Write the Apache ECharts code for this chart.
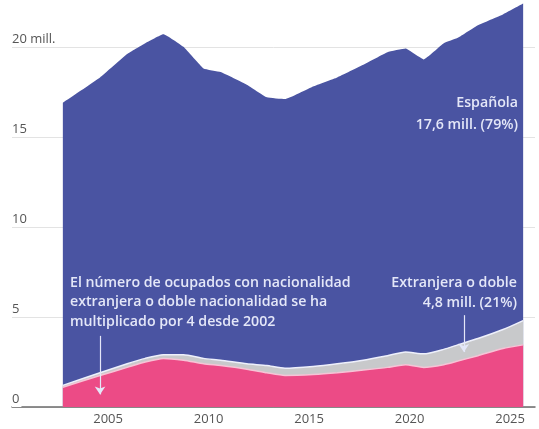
<!DOCTYPE html>
<html>
<head>
<meta charset="utf-8">
<script src="https://cdn.jsdelivr.net/npm/echarts@6/dist/echarts.min.js"></script>
<style>
  html, body { margin: 0; padding: 0; background: #fff; }
  #chart { width: 539px; height: 429px; }
</style>
</head>
<body>
<div id="chart"></div>
<script>
// años (posición aproximada de cada punto)
const years = [2002.75, 2004.6, 2005.95, 2006.85, 2007.75, 2008.75, 2009.75, 2010.6, 2011.9, 2012.9, 2013.8,
  2015.2, 2016.4, 2017.7, 2018.9, 2019.8, 2020.7, 2021.7, 2022.4, 2023.4, 2024.65, 2025.65]
// ocupados, millones
const extranjera = [1.1, 1.75, 2.2, 2.5, 2.7, 2.6, 2.4, 2.3, 2.1, 1.9, 1.75,
  1.8, 1.9, 2.05, 2.2, 2.35, 2.2, 2.35, 2.55, 2.85, 3.25, 3.45]
const doble = [0.1, 0.15, 0.2, 0.2, 0.2, 0.3, 0.3, 0.3, 0.3, 0.4, 0.4,
  0.45, 0.5, 0.55, 0.65, 0.7, 0.75, 0.85, 0.9, 0.95, 1.05, 1.35]
const espanola = [15.7, 16.4, 17.2, 17.5, 17.8, 17.1, 16.1, 16.0, 15.5, 14.9, 14.95,
  15.55, 15.9, 16.4, 16.85, 16.85, 16.35, 17.0, 17.05, 17.4, 17.5, 17.6]
const xTicks = [2005, 2010, 2015, 2020, 2025]

// apilado a mano (eje x de valores)
const topExt = extranjera.map((v, i) => [years[i], v])
const topDoble = extranjera.map((v, i) => [years[i], v + doble[i]])
const topTotal = extranjera.map((v, i) => [years[i], v + doble[i] + espanola[i]])

const font = '"Open Sans", Roboto, sans-serif'
const annoColor = '#e4e7f8'

const myChart = echarts.init(document.getElementById('chart'))
myChart.setOption({
  animation: false,
  grid: { left: 12, right: 4, top: 0, bottom: 22 },
  xAxis: {
    type: 'value',
    min: 2000.22,
    max: 2026.24,
    axisLine: { lineStyle: { color: '#6b6b6b', width: 1.5 } },
    axisTick: { show: false },
    splitLine: { show: false },
    axisLabel: {
      customValues: xTicks,
      color: '#555',
      fontSize: 13,
      fontFamily: font,
      margin: 6,
      formatter: v => String(v)
    }
  },
  yAxis: {
    type: 'value',
    min: 0,
    max: 22.6,
    interval: 5,
    axisLine: { show: false },
    axisTick: { show: false },
    splitLine: { showMaxLine: false, lineStyle: { color: '#e3e3e3', width: 1 } },
    axisLabel: {
      inside: true,
      margin: 0,
      showMaxLabel: false,
      verticalAlign: 'bottom',
      color: '#555',
      fontSize: 13,
      fontFamily: font,
      backgroundColor: '#fff',
      padding: [0, 2, 1, 0],
      formatter: v => (v === 20 ? '20 mill.' : String(v))
    }
  },
  series: [
    {
      name: 'Española',
      type: 'line',
      symbol: 'none',
      smooth: 0.1,
      z: 2,
      lineStyle: { width: 0 },
      areaStyle: { color: '#4a54a2', opacity: 1 },
      data: topTotal
    },
    {
      name: 'Doble nacionalidad',
      type: 'line',
      symbol: 'none',
      smooth: 0.2,
      z: 3,
      lineStyle: { color: '#eef0fb', width: 1.5 },
      areaStyle: { color: '#c8c9cb', opacity: 1 },
      data: topDoble
    },
    {
      name: 'Extranjera',
      type: 'line',
      symbol: 'none',
      smooth: 0.2,
      z: 4,
      lineStyle: { color: '#f6c4d6', width: 1.5 },
      areaStyle: { color: '#ec4b86', opacity: 1 },
      data: topExt,
      markLine: {
        silent: true,
        symbol: ['none', 'arrow'],
        symbolSize: 8,
        label: { show: false },
        lineStyle: { color: annoColor, width: 1.2, type: 'solid' },
        data: [
          [{ coord: [2004.6, 3.95] }, { coord: [2004.6, 0.7] }],
          [{ coord: [2022.7, 5.1] }, { coord: [2022.7, 3.05] }]
        ]
      }
    }
  ],
  graphic: [
    {
      type: 'text',
      z: 100,
      style: {
        x: 518, y: 92,
        text: 'Española\n17,6 mill. (79%)',
        align: 'right', verticalAlign: 'top',
        lineHeight: 22,
        fill: annoColor,
        font: '600 14.2px ' + font
      }
    },
    {
      type: 'text',
      z: 100,
      style: {
        x: 70, y: 273,
        text: 'El número de ocupados con nacionalidad\nextranjera o doble nacionalidad se ha\nmultiplicado por 4 desde 2002',
        align: 'left', verticalAlign: 'top',
        lineHeight: 19.5,
        fill: annoColor,
        font: '600 14.2px ' + font
      }
    },
    {
      type: 'text',
      z: 100,
      style: {
        x: 517, y: 273,
        text: 'Extranjera o doble\n4,8 mill. (21%)',
        align: 'right', verticalAlign: 'top',
        lineHeight: 20,
        fill: annoColor,
        font: '600 14.2px ' + font
      }
    }
  ]
})
</script>
</body>
</html>
